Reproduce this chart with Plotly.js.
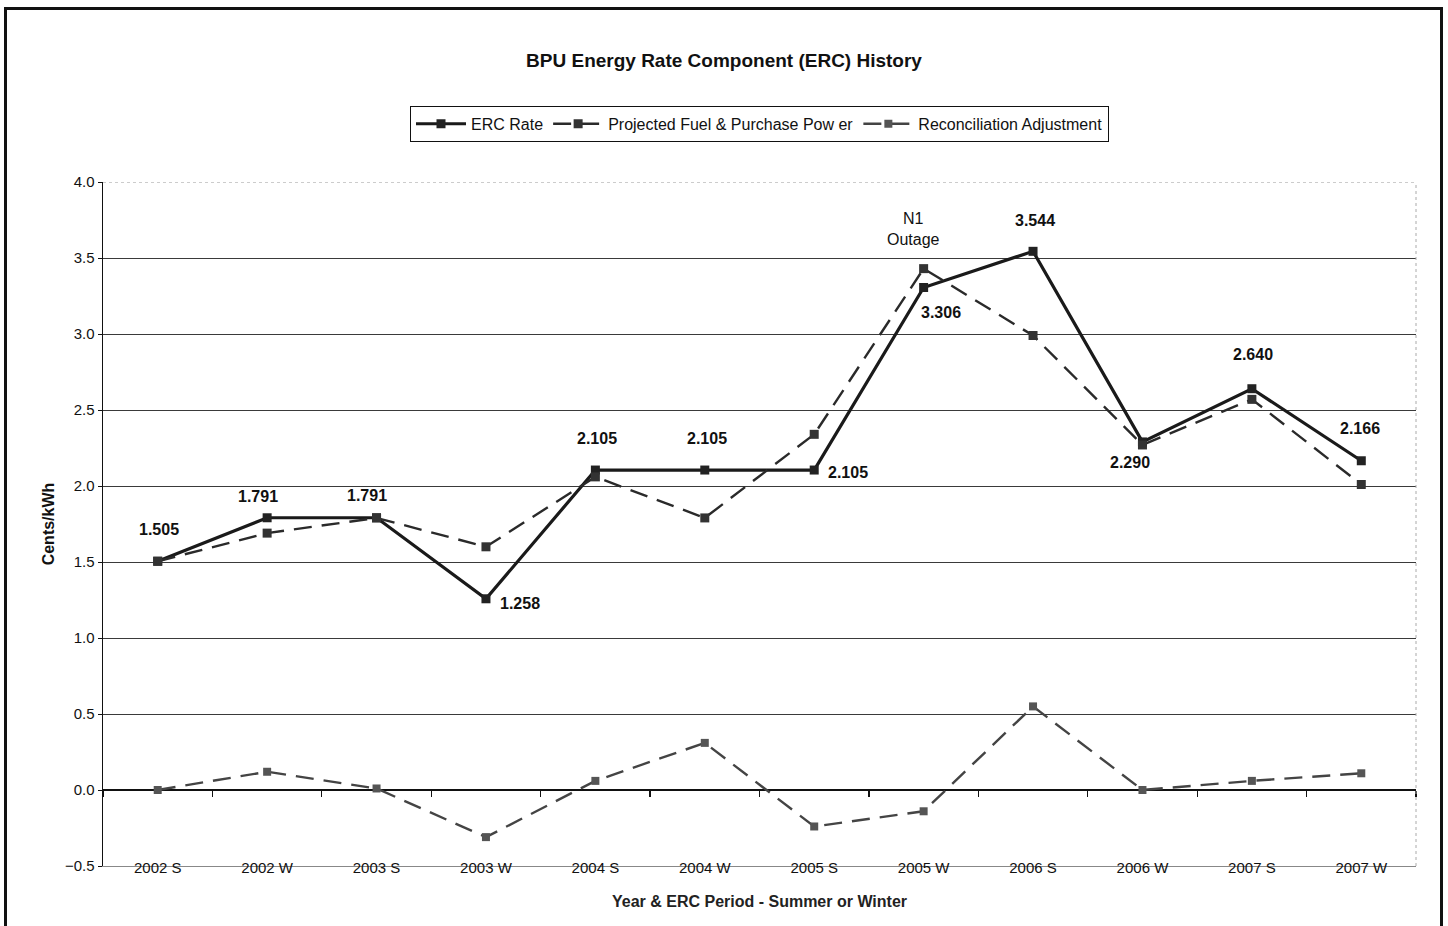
<!DOCTYPE html>
<html><head><meta charset="utf-8">
<script src="https://cdn.plot.ly/plotly-3.0.1.min.js"></script>
<style>
html,body{margin:0;padding:0;background:#fff;}
#chart{width:1448px;height:926px;position:absolute;left:0;top:0;}
#frame{position:absolute;left:4px;top:7px;width:1433px;height:925px;border-top:3px solid #111;border-left:3px solid #111;border-right:3px solid #111;pointer-events:none;}
</style></head>
<body>
<div id="chart"></div>
<div id="frame"></div>
<script>
const categories = ["2002 S","2002 W","2003 S","2003 W","2004 S","2004 W","2005 S","2005 W","2006 S","2006 W","2007 S","2007 W"];
const ercRate = [1.505,1.791,1.791,1.258,2.105,2.105,2.105,3.306,3.544,2.290,2.640,2.166];
const projectedFuel = [1.505,1.69,1.79,1.60,2.06,1.79,2.34,3.43,2.99,2.27,2.57,2.01];
const reconciliation = [0.0,0.12,0.01,-0.31,0.06,0.31,-0.24,-0.14,0.55,0.0,0.06,0.11];
const ercLabels = ["1.505","1.791","1.791","1.258","2.105","2.105","2.105","3.306","3.544","2.290","2.640","2.166"];
const labelShift = [[1,32],[-9,21],[-10,22],[34,-5],[2,32],[2,32],[34,-2],[17,-25],[2,31],[-12,-21],[1,34],[-1,32]];

const FONT = "'Liberation Sans Narrow', 'Arial Narrow', 'Liberation Sans', Arial, sans-serif";

const traces = [
  {x:categories, y:ercRate, name:"ERC Rate", type:"scatter", mode:"lines+markers",
   line:{color:"#1a1a1a", width:3.2}, marker:{symbol:"square", size:9, color:"#222"}},
  {x:categories, y:projectedFuel, name:"Projected Fuel & Purchase Pow er", type:"scatter", mode:"lines+markers",
   line:{color:"#2a2a2a", width:2.4, dash:"18px,10px"}, marker:{symbol:"square", size:9, color:"#333"}},
  {x:categories, y:reconciliation, name:"Reconciliation Adjustment", type:"scatter", mode:"lines+markers",
   line:{color:"#444", width:2.4, dash:"18px,10px"}, marker:{symbol:"square", size:8, color:"#555"}},
  {x:categories, y:reconciliation, xaxis:"x2", type:"scatter", mode:"lines", opacity:0,
   showlegend:false, hoverinfo:"skip", line:{width:0}}
];

const annotations = ercLabels.map((t,i)=>({
  x:categories[i], y:ercRate[i], text:"<b>"+t+"</b>", showarrow:false,
  xshift:labelShift[i][0], yshift:labelShift[i][1],
  font:{family:FONT, size:16, color:"#111"}
}));
annotations.push({x:"2005 W", y:projectedFuel[7], text:"N1<br>Outage", showarrow:false,
  xshift:-10, yshift:40, bgcolor:"#fff", borderpad:3,
  font:{family:FONT, size:16, color:"#111"}});

const layout = {
  width:1448, height:926,
  margin:{l:103, r:32, t:182, b:60},
  paper_bgcolor:"#fff", plot_bgcolor:"#fff",
  font:{family:FONT, color:"#111"},
  title:{text:"<b>BPU Energy Rate Component (ERC) History</b>", x:0.5, xanchor:"center", y:0.935, yanchor:"middle",
    font:{family:FONT, size:19, color:"#111"}},
  showlegend:true,
  legend:{orientation:"h", x:0.5, xanchor:"center", y:1.085, yanchor:"middle",
    bordercolor:"#111", borderwidth:1, bgcolor:"#fff",
    font:{family:FONT, size:16, color:"#111"}, itemwidth:50, tracegroupgap:0},
  xaxis:{type:"category", showgrid:false, showline:true, linecolor:"#888", linewidth:1,
    ticks:"", ticklabelstandoff:-12, tickfont:{family:FONT, size:15, color:"#111"},
    title:{text:"<b>Year & ERC Period - Summer or Winter</b>", standoff:20, font:{family:FONT, size:16, color:"#222"}},
    zeroline:false, range:[-0.5,11.5]},
  xaxis2:{type:"category", overlaying:"x", anchor:"free", position:0.5/4.5, side:"bottom",
    range:[-0.5,11.5], tickson:"boundaries", ticks:"outside", ticklen:6, tickcolor:"#111", tickwidth:1.2,
    showticklabels:false, showline:false, showgrid:false, zeroline:false},
  yaxis:{range:[-0.5,4.0], dtick:0.5, tickformat:".1f", showgrid:true, gridcolor:"#3a3a3a", gridwidth:1,
    zeroline:true, zerolinecolor:"#111", zerolinewidth:1.5,
    showline:true, linecolor:"#111", linewidth:1.5, ticks:"outside", ticklen:4, tickcolor:"#111",
    tickfont:{family:FONT, size:15, color:"#111"},
    title:{text:"<b>Cents/kWh</b>", standoff:6, font:{family:FONT, size:16, color:"#111"}}},
  annotations:annotations,
  shapes:[
    {type:"line", xref:"paper", yref:"y", x0:0, x1:1, y0:4.0, y1:4.0, line:{color:"#fff", width:3}, layer:"above"},
    {type:"line", xref:"paper", yref:"y", x0:0, x1:1, y0:4.0, y1:4.0, line:{color:"#999", width:1, dash:"dot"}, layer:"above"},
    {type:"line", xref:"paper", yref:"paper", x0:1, x1:1, y0:0, y1:1, line:{color:"#aaa", width:1, dash:"dot"}, layer:"above"}
  ]
};

Plotly.newPlot("chart", traces, layout, {displayModeBar:false, staticPlot:true});
</script>
</body></html>
